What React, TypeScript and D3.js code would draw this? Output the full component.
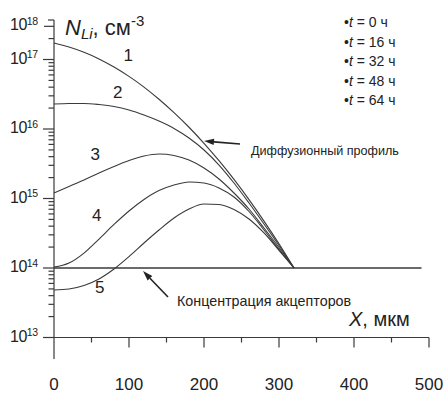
import React from "react";
import * as d3 from "d3";

// depth, µm
const depthX = [0, 20, 40, 60, 80, 100, 120, 140, 160, 180, 200, 220, 240, 260, 280, 300, 320];
// N_Li, cm^-3 for each time
const curve1 = [1.73e17, 1.51e17, 1.27e17, 1.02e17, 7.8e16, 5.71e16, 4.01e16, 2.68e16, 1.72e16, 1.06e16, 6.23e15, 3.5e15, 1.88e15, 9.64e14, 4.73e14, 2.23e14, 1.0e14];
const curve2 = [2.29e16, 2.33e16, 2.33e16, 2.25e16, 2.11e16, 1.88e16, 1.59e16, 1.3e16, 1.02e16, 7.42e15, 4.99e15, 3.03e15, 1.67e15, 8.61e14, 4.3e14, 2.11e14, 1.0e14];
const curve3 = [1.2e15, 1.49e15, 1.85e15, 2.33e15, 2.89e15, 3.52e15, 4.09e15, 4.37e15, 4.16e15, 3.58e15, 2.75e15, 1.91e15, 1.2e15, 7.06e14, 3.76e14, 1.97e14, 1.0e14];
const curve4 = [1.03e14, 1.18e14, 1.64e14, 2.61e14, 4.23e14, 6.61e14, 9.67e14, 1.3e15, 1.56e15, 1.73e15, 1.67e15, 1.42e15, 1.05e15, 6.5e14, 3.52e14, 1.85e14, 1.0e14];
const curve5 = [4.82e13, 4.99e13, 5.6e13, 6.95e13, 9.67e13, 1.46e14, 2.29e14, 3.52e14, 5.24e14, 7.06e14, 8.34e14, 8.2e14, 6.95e14, 5.07e14, 3.19e14, 1.79e14, 1.0e14];
const curveNumbers = ["1", "2", "3", "4", "5"];
const legendHours = ["0", "16", "32", "48", "64"];

const xTicks = [0, 100, 200, 300, 400, 500];
const xMinorTicks = [50, 150, 250, 350, 450];
const yMajorTicks = [1e13, 1e14, 1e15, 1e16, 1e17];
const yExponents = ["13", "14", "15", "16", "17"];
const yTopTick = 3e17;
const yTopExponent = "18";

const acceptorLevel = 1e14;
const acceptorEnd = 490;

const W = 445;
const H = 394;
const FONT = "'Liberation Sans', Arial, sans-serif";
const INK = "#222";
const LINE = "#3a3a3a";

function Arrow({ x1, y1, x2, y2 }: { x1: number; y1: number; x2: number; y2: number }) {
  const a = Math.atan2(y2 - y1, x2 - x1);
  const L = 10, w = 3.2;
  const bx = x2 - L * Math.cos(a), by = y2 - L * Math.sin(a);
  const p1 = [bx + w * Math.sin(a), by - w * Math.cos(a)];
  const p2 = [bx - w * Math.sin(a), by + w * Math.cos(a)];
  return (
    <g>
      <line x1={x1} y1={y1} x2={bx} y2={by} stroke={INK} strokeWidth={1.6} />
      <path d={`M${x2},${y2}L${p1[0]},${p1[1]}L${p2[0]},${p2[1]}Z`} fill={INK} />
    </g>
  );
}

export default function App() {
  const x = d3.scaleLinear().domain([0, 500]).range([54, 429]);
  const y = d3.scaleLog().domain([1e13, 1e17]).range([337.5, 59.5]);
  const yTopPx = 20;
  const axisY = y(1e13);
  const axisX = x(0);

  const line = d3
    .line<[number, number]>()
    .x((d) => x(d[0]))
    .y((d) => y(d[1]))
    .curve(d3.curveMonotoneX);

  const series = [curve1, curve2, curve3, curve4, curve5];

  const minor: number[] = [];
  yMajorTicks.forEach((m) => {
    for (let k = 2; k <= 9; k++) {
      const v = m * k;
      if (y(v) >= yTopPx - 0.5 && v !== yTopTick) minor.push(v);
    }
  });

  const labelPos = [
    [99, 9.5e16],
    [85, 2.75e16],
    [55, 3.6e15],
    [57, 4.8e14],
    [61, 4.4e13],
  ];

  const diffArrow = { from: [248, 6.08e15], to: [200, 6.71e15] };
  const accArrow = { from: [152, 3.83e13], to: [118.7, 9.06e13] };

  return (
    <svg
      width={W}
      height={H}
      style={{ position: "absolute", left: 0, top: 0, background: "#fff" }}
      fontFamily={FONT}
    >
      <rect width={W} height={H} fill="#fff" />
      {/* axes */}
      <line x1={axisX} y1={yTopPx} x2={axisX} y2={359} stroke={LINE} strokeWidth={1.2} />
      <line x1={43} y1={axisY} x2={x(500)} y2={axisY} stroke={LINE} strokeWidth={1.2} />
      {yMajorTicks.map((v) => (
        <line key={"ym" + v} x1={43} x2={axisX} y1={y(v)} y2={y(v)} stroke={LINE} strokeWidth={1.2} />
      ))}
      <line x1={44} x2={axisX} y1={y(yTopTick)} y2={y(yTopTick)} stroke={LINE} strokeWidth={1.2} />
      <line x1={48} x2={axisX} y1={yTopPx} y2={yTopPx} stroke={LINE} strokeWidth={1.2} />
      {minor.map((v) => (
        <line key={"yn" + v} x1={48.5} x2={axisX} y1={y(v)} y2={y(v)} stroke={LINE} strokeWidth={1.2} />
      ))}
      {xTicks.slice(1).map((v) => (
        <line key={"xm" + v} x1={x(v)} x2={x(v)} y1={axisY} y2={axisY + 10} stroke={LINE} strokeWidth={1.2} />
      ))}
      {xMinorTicks.map((v) => (
        <line key={"xn" + v} x1={x(v)} x2={x(v)} y1={axisY} y2={axisY + 5} stroke={LINE} strokeWidth={1.2} />
      ))}
      {/* tick labels */}
      {xTicks.map((v) => (
        <text key={"xl" + v} x={x(v)} y={390} textAnchor="middle" fontSize={17} fill={INK}>
          {v}
        </text>
      ))}
      {yMajorTicks.map((v, i) => (
        <text key={"yl" + v} x={10} y={y(v) + 4} fontSize={16} fill={INK} letterSpacing={-0.5}>
          10
          <tspan fontSize={10.5} dy={-5.5}>
            {yExponents[i]}
          </tspan>
        </text>
      ))}
      <text x={10} y={y(yTopTick) + 4} fontSize={16} fill={INK} letterSpacing={-0.5}>
        10
        <tspan fontSize={10.5} dy={-5.5}>
          {yTopExponent}
        </tspan>
      </text>
      {/* acceptor level */}
      <line x1={axisX} x2={x(acceptorEnd)} y1={y(acceptorLevel)} y2={y(acceptorLevel)} stroke={LINE} strokeWidth={1.3} />
      {/* curves */}
      {series.map((s, i) => (
        <path
          key={"c" + i}
          d={line(depthX.map((d, j) => [d, s[j]] as [number, number])) || ""}
          fill="none"
          stroke={LINE}
          strokeWidth={1.1}
        />
      ))}
      {curveNumbers.map((n, i) => (
        <text key={"n" + n} x={x(labelPos[i][0])} y={y(labelPos[i][1])} textAnchor="middle" fontSize={17} fill={INK}>
          {n}
        </text>
      ))}
      {/* annotations */}
      <Arrow x1={x(diffArrow.from[0])} y1={y(diffArrow.from[1])} x2={x(diffArrow.to[0])} y2={y(diffArrow.to[1])} />
      <text x={251} y={155} fontSize={12.6} fill={INK}>
        Диффузионный профиль
      </text>
      <Arrow x1={x(accArrow.from[0])} y1={y(accArrow.from[1])} x2={x(accArrow.to[0])} y2={y(accArrow.to[1])} />
      <text x={177} y={306} fontSize={14.3} fill={INK}>
        Концентрация акцепторов
      </text>
      {/* axis titles */}
      <text x={65} y={35} fontSize={22} fill={INK}>
        <tspan fontStyle="italic">N</tspan>
        <tspan fontStyle="italic" fontSize={15} dy={4}>Li</tspan>
        <tspan dy={-4}>, см</tspan>
        <tspan fontSize={15} dy={-9}>-3</tspan>
      </text>
      <text x={349} y={326} fontSize={20} fill={INK}>
        <tspan fontStyle="italic">X</tspan>
        <tspan>, мкм</tspan>
      </text>
      {/* legend */}
      {legendHours.map((h, i) => (
        <text key={"lg" + h} x={344} y={27 + i * 19.5} fontSize={14} fill={INK}>
          •<tspan fontStyle="italic">t</tspan> = {h} ч
        </text>
      ))}
    </svg>
  );
}
